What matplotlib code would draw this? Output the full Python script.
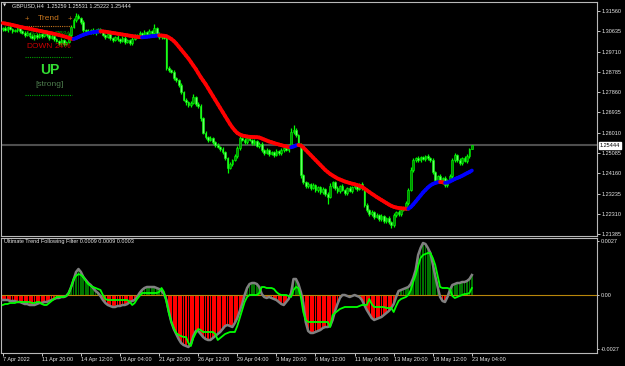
import numpy as np
import matplotlib
matplotlib.use("Agg")
import matplotlib.pyplot as plt
import matplotlib.transforms as mtransforms
from matplotlib.collections import LineCollection

plt.rcParams['font.family'] = ['Liberation Sans', 'DejaVu Sans']

# ---------------- data ----------------
symbol_title = "GBPUSD,H4  1.25259 1.25531 1.25222 1.25444"
indicator_title = "Ultimate Trend Following Filter 0.0009 0.0009 0.0003"

first_open = 1.3072
closes = [
    1.3078, 1.3069, 1.3083, 1.3074, 1.3065, 1.3069, 1.3078, 1.3065, 1.3056, 1.3047,
    1.3056, 1.3042, 1.3033, 1.3047, 1.3037, 1.3051, 1.3042, 1.3056, 1.3047, 1.3033,
    1.3042, 1.3028, 1.3019, 1.3010, 1.3024, 1.3006, 1.3015, 1.3047, 1.3083, 1.3115,
    1.3133, 1.3124, 1.3106, 1.3069, 1.3065, 1.3060, 1.3069, 1.3056, 1.3065, 1.3074,
    1.3060, 1.3047, 1.3037, 1.3051, 1.3033, 1.3024, 1.3037, 1.3028, 1.3019, 1.3033,
    1.3015, 1.3024, 1.3010, 1.3028, 1.3042, 1.3047, 1.3056, 1.3042, 1.3060, 1.3051,
    1.3065, 1.3056, 1.3078, 1.3051, 1.3037, 1.3042, 1.3033, 1.2896, 1.2887, 1.2878,
    1.2850, 1.2841, 1.2818, 1.2787, 1.2750, 1.2741, 1.2727, 1.2736, 1.2764, 1.2732,
    1.2723, 1.2668, 1.2600, 1.2581, 1.2568, 1.2577, 1.2559, 1.2545, 1.2536, 1.2527,
    1.2513, 1.2486, 1.2440, 1.2458, 1.2477, 1.2495, 1.2531, 1.2577, 1.2568, 1.2559,
    1.2577, 1.2568, 1.2554, 1.2563, 1.2540, 1.2550, 1.2522, 1.2509, 1.2522, 1.2504,
    1.2513, 1.2499, 1.2518, 1.2509, 1.2522, 1.2531, 1.2522, 1.2540, 1.2604, 1.2613,
    1.2590, 1.2545, 1.2408, 1.2376, 1.2358, 1.2367, 1.2349, 1.2362, 1.2340, 1.2353,
    1.2331, 1.2344, 1.2322, 1.2308, 1.2358, 1.2376, 1.2349, 1.2335, 1.2358, 1.2340,
    1.2326, 1.2349, 1.2335, 1.2353, 1.2362, 1.2344, 1.2367, 1.2349, 1.2271, 1.2249,
    1.2230, 1.2240, 1.2217, 1.2226, 1.2208, 1.2221, 1.2198, 1.2212, 1.2194, 1.2180,
    1.2226, 1.2240, 1.2230, 1.2249, 1.2258, 1.2281, 1.2340, 1.2431, 1.2477, 1.2486,
    1.2477, 1.2490, 1.2481, 1.2495, 1.2486, 1.2477, 1.2422, 1.2385, 1.2403, 1.2376,
    1.2394, 1.2362, 1.2385, 1.2403, 1.2477, 1.2499, 1.2477, 1.2463, 1.2486, 1.2472,
    1.2495, 1.25259, 1.25444]

wick_up_pips = [
    6, 9, 5, 8, 4, 7, 10, 5, 6, 8,
    7, 5, 9, 6, 8, 4, 7, 10, 5, 6,
    8, 5, 7, 4, 9, 6, 5, 8, 11, 9,
    14, 8, 6, 7, 5, 9, 6, 8, 7, 5,
    6, 8, 5, 9, 7, 4, 6, 8, 5, 7,
    9, 6, 5, 8, 7, 6, 9, 5, 8, 6,
    7, 5, 19, 6, 8, 5, 7, 3, 9, 6,
    8, 5, 7, 10, 6, 9, 5, 8, 12, 6,
    7, 9, 5, 8, 6, 10, 7, 5, 9, 6,
    8, 7, 5, 9, 6, 10, 12, 8, 6, 9,
    7, 10, 5, 8, 6, 7, 9, 5, 8, 6,
    7, 5, 9, 6, 8, 7, 10, 9, 20, 23,
    8, 6, 10, 7, 5, 9, 6, 8, 5, 7,
    6, 9, 5, 8, 12, 7, 6, 9, 5, 8,
    7, 5, 9, 6, 8, 7, 5, 9, 6, 8,
    5, 7, 6, 9, 5, 8, 6, 7, 9, 5,
    8, 6, 9, 5, 7, 10, 8, 12, 9, 6,
    8, 5, 7, 6, 9, 5, 8, 6, 7, 9,
    5, 8, 6, 9, 7, 10, 6, 8, 5, 7,
    9, 6, 0.9]

wick_dn_pips = [
    7, 5, 9, 6, 8, 5, 7, 10, 6, 8,
    5, 9, 6, 7, 10, 5, 8, 6, 9, 7,
    5, 8, 6, 10, 7, 9, 5, 6, 8, 5,
    7, 6, 9, 8, 5, 7, 10, 6, 8, 9,
    5, 7, 9, 6, 8, 10, 5, 7, 9, 6,
    8, 5, 10, 7, 6, 9, 5, 8, 6, 7,
    9, 5, 8, 6, 10, 7, 5, 9, 8, 6,
    9, 7, 10, 8, 6, 12, 9, 7, 5, 10,
    8, 12, 6, 9, 7, 5, 10, 8, 6, 9,
    7, 10, 23, 6, 8, 5, 7, 9, 6, 8,
    10, 5, 7, 9, 6, 8, 10, 7, 5, 9,
    6, 8, 5, 10, 7, 9, 6, 8, 5, 7,
    9, 6, 12, 8, 10, 7, 9, 6, 10, 8,
    7, 9, 10, 30, 6, 8, 10, 7, 9, 6,
    8, 10, 6, 9, 7, 8, 6, 9, 10, 8,
    9, 7, 10, 6, 9, 8, 10, 7, 9, 13,
    8, 7, 10, 9, 6, 8, 7, 6, 9, 7,
    8, 10, 6, 9, 7, 8, 9, 7, 10, 6,
    8, 9, 7, 10, 6, 8, 9, 7, 10, 6,
    8, 9, 0.4]

ma_values = [
    1.31013, 1.30990, 1.30967, 1.30945, 1.30922, 1.30894, 1.30867, 1.30840, 1.30817, 1.30794,
    1.30771, 1.30749, 1.30726, 1.30703, 1.30680, 1.30657, 1.30635, 1.30612, 1.30589, 1.30566,
    1.30544, 1.30521, 1.30493, 1.30466, 1.30439, 1.30407, 1.30375, 1.30338, 1.30302, 1.30284,
    1.30320, 1.30375, 1.30430, 1.30475, 1.30512, 1.30544, 1.30571, 1.30594, 1.30612, 1.30626,
    1.30635, 1.30630, 1.30616, 1.30598, 1.30580, 1.30562, 1.30544, 1.30525, 1.30507, 1.30489,
    1.30471, 1.30452, 1.30434, 1.30416, 1.30398, 1.30384, 1.30370, 1.30361, 1.30370, 1.30384,
    1.30398, 1.30411, 1.30425, 1.30439, 1.30448, 1.30443, 1.30434, 1.30411, 1.30352, 1.30284,
    1.30193, 1.30079, 1.29942, 1.29805, 1.29669, 1.29532, 1.29395, 1.29236, 1.29076, 1.28917,
    1.28734, 1.28552, 1.28393, 1.28233, 1.28051, 1.27869, 1.27686, 1.27504, 1.27322, 1.27139,
    1.26957, 1.26775, 1.26593, 1.26410, 1.26251, 1.26114, 1.26000, 1.25932, 1.25886, 1.25863,
    1.25841, 1.25827, 1.25818, 1.25813, 1.25809, 1.25795, 1.25750, 1.25704, 1.25658, 1.25613,
    1.25581, 1.25544, 1.25508, 1.25476, 1.25444, 1.25417, 1.25390, 1.25362, 1.25349, 1.25385,
    1.25431, 1.25453, 1.25431, 1.25339, 1.25225, 1.25112, 1.24998, 1.24884, 1.24770, 1.24656,
    1.24542, 1.24428, 1.24314, 1.24223, 1.24132, 1.24063, 1.23995, 1.23927, 1.23881, 1.23836,
    1.23790, 1.23754, 1.23722, 1.23690, 1.23663, 1.23631, 1.23594, 1.23549, 1.23471, 1.23389,
    1.23312, 1.23234, 1.23161, 1.23084, 1.23015, 1.22947, 1.22879, 1.22810, 1.22742, 1.22683,
    1.22637, 1.22605, 1.22582, 1.22569, 1.22560, 1.22551, 1.22546, 1.22628, 1.22742, 1.22879,
    1.23015, 1.23152, 1.23289, 1.23403, 1.23517, 1.23608, 1.23676, 1.23722, 1.23754, 1.23767,
    1.23754, 1.23731, 1.23744, 1.23790, 1.23845, 1.23904, 1.23950, 1.23995, 1.24050, 1.24109,
    1.24168, 1.24223, 1.24291]

# oscillator values in units of 1e-4
filter_hist = [
    -2.5, -2.5, -2.5, -3, -3, -3, -3.5, -3.5, -4, -4.5,
    -4.5, -5, -5, -5, -4.5, -4, -4, -3.5, -3.5, -3,
    -2.5, -2, -1.5, -1.5, -1, -1, -0.5, 1, 4, 7.5,
    11.5, 13, 11.5, 9, 7.5, 6, 5, 3.5, 2, 1,
    -0.5, -2.5, -4, -5, -5.5, -6, -6, -5.5, -5.5, -5,
    -5, -4.5, -3.5, -3, -2.5, -1, 1, 2.5, 3.5, 4,
    4, 4, 4, 3.5, 3, 2, 0.5, -2.5, -8.5, -13.5,
    -17, -19.5, -22, -24, -25, -25.5, -26, -24.5, -20.5, -18,
    -18, -19.5, -21, -22, -22.5, -22.5, -21.5, -20.5, -19.5, -18.5,
    -17, -15.5, -15, -15.5, -16, -14, -11.5, -8, -4.5, 0,
    3.5, 5.5, 6, 6, 5.5, 4, 0.5, -1, -1.5, -1,
    -1.5, -2, -2.5, -3.5, -4.5, -5, -3.5, -2, 1, 8,
    8, 5.5, 1.5, -4, -13.5, -18, -19, -19, -18.5, -18,
    -17.5, -16.5, -16, -16, -15.5, -12.5, -8, -4.5, -1.5, 0,
    0, -0.5, -1, -0.5, 0, -0.5, -1, -2.5, -5, -7.5,
    -9.5, -11.5, -12.5, -12, -11.5, -11, -10, -9, -8, -6.5,
    -4.5, -1, 2, 2.5, 3, 3.5, 4, 5.5, 8.5, 12.5,
    20, 23.5, 26, 25.5, 23.5, 21, 15.5, 9.5, 4, -1,
    -3, -3.5, -1, 2.5, 5, 5.5, 6, 6, 6.5, 6.5,
    7, 8, 10]

filter_signal = [
    -5, -4.5, -4.5, -4, -4, -4, -3.5, -3.5, -3.5, -3.5,
    -3.5, -3.5, -4, -4, -3.5, -3.5, -4.5, -5, -5, -4,
    -3, -2, -1, -1, -1, -1, -0.5, 1, 4, 8,
    9.5, 10.5, 10, 9, 7, 5.5, 4.5, 4, 3.5, 3,
    2.5, 0, -2, -2.5, -2.5, -2.5, -2.5, -2.5, -2.5, -2.5,
    -2.5, -2.5, -3.5, -5, -4, -2, -0.5, 1, 1, 1,
    1, 1, 1, 1, 1.5, 3.5, 1.5, -3.5, -9, -13.5,
    -16.5, -19, -20, -20.5, -21, -21, -24, -25.5, -21.5, -19,
    -17, -17.5, -18.5, -18.5, -18.5, -18.5, -18.5, -19.5, -22.5, -21.5,
    -20.5, -19.5, -19, -18.5, -18.5, -18.5, -15.5, -11.5, -7.5, -3.5,
    -1, 0, 0, 0, 0, 1, 4, 4, 3.5, 3.5,
    3.5, 3, 1.5, 0.5, 0, 0, 0, -0.5, -1, 2.5,
    4, 3.5, -1, -8.5, -12.5, -13.5, -13.5, -13.5, -13.5, -13.5,
    -13.5, -13.5, -13.5, -13.5, -16, -10, -9, -8, -7, -6.5,
    -6, -6, -6, -6, -6, -6, -5.5, -5, -5, -5,
    -2, -4.5, -6, -6, -6, -6, -6, -6.5, -6.5, -6.5,
    -8.5, -5.5, -3, -2, -1.5, -1, 0, 2.5, 6.5, 10,
    14.5, 18.5, 20, 20.5, 21, 21, 18.5, 15, 9.5, 4,
    3.5, 3.5, 3.5, 3, -0.5, -1.5, -1, -0.5, 0, 0.5,
    0.5, 1, 3.5]

time_labels = ["7 Apr 2022", "11 Apr 20:00", "14 Apr 12:00", "19 Apr 04:00",
               "21 Apr 20:00", "26 Apr 12:00", "29 Apr 04:00", "3 May 20:00",
               "6 May 12:00", "11 May 04:00", "13 May 20:00", "18 May 12:00",
               "23 May 04:00"]
bars_per_label = 16

price_ticks = [1.31560, 1.30635, 1.29710, 1.28785, 1.27860, 1.26935,
               1.26010, 1.25085, 1.24160, 1.23235, 1.22310, 1.21385]
current_price = 1.25444
osc_ticks = [0.0027, 0.0, -0.0027]
osc_tick_labels = ["0.0027", "0.00", "-0.0027"]
trend_up_pct = 76
trend_down_pct = 24
trend_state = "UP"
trend_strength = "[strong]"

# ---------------- figure ----------------
W, H = 625, 366
fig = plt.figure(figsize=(W / 100, H / 100), dpi=100, facecolor='black')


def fx(px):
    return px / W


def fy(py):
    return 1 - py / H


ax = fig.add_axes([fx(1), fy(236), 596 / W, 234 / H], facecolor='black')
ax2 = fig.add_axes([fx(1), fy(352.5), 596 / W, 115 / H], facecolor='black')

n = len(closes)
x = np.arange(n)
c = np.array(closes)
o = np.array([first_open] + closes[:-1])
hi = np.maximum(o, c) + np.array(wick_up_pips) * 1e-4
lo = np.minimum(o, c) - np.array(wick_dn_pips) * 1e-4

xlim = (-0.7, 243.2)
spine_col = '#b8b8b8'
txt_col = '#e6e6e6'

# main panel
ax.axhline(current_price, color='#4e4e4e', lw=1.5, zorder=1)
ax.vlines(x, lo, hi, color='#00ff00', lw=0.9, zorder=4)
body_col = np.where(c >= o, '#009000', '#66ff66')
ax.bar(x, np.maximum(np.abs(c - o), 0.00002), bottom=np.minimum(o, c), width=0.7,
       color=body_col, edgecolor='#00ff00', linewidth=0.4, zorder=5)

ma = np.array(ma_values)
pts = np.column_stack([x, ma])
segs = np.stack([pts[:-1], pts[1:]], axis=1)
seg_cols = ['#0000ff' if ma[i + 1] > ma[i] else '#ff0000' for i in range(n - 1)]
ax.add_collection(LineCollection(segs, colors=seg_cols, linewidths=2.7,
                                 capstyle='round', zorder=6))

ax.set_xlim(*xlim)
ax.set_ylim(1.21306, 1.31970)
ax.yaxis.tick_right()
ax.set_yticks(price_ticks)
ax.set_yticklabels([f"{p:.5f}" for p in price_ticks])
ax.tick_params(axis='y', colors=txt_col, labelsize=4, length=2, width=0.6, pad=1.2,
               direction='out')
ax.tick_params(axis='x', bottom=False, labelbottom=False)
for sp in ax.spines.values():
    sp.set_color(spine_col)
    sp.set_linewidth(0.8)

trans = mtransforms.blended_transform_factory(ax.transAxes, ax.transData)
ax.text(1.004, current_price, f"{current_price:.5f}", transform=trans, ha='left',
        va='center', fontsize=4, color='black', zorder=10, clip_on=False,
        bbox=dict(boxstyle='square,pad=0.15', fc='white', ec='white'))

# overlay texts (above candles, below the MA line)
tf = fig.transFigure
tz = 5.5
ax.text(fx(12), fy(6), symbol_title, transform=tf, fontsize=4, color=txt_col,
        va='center', ha='left', zorder=8)
ax.text(fx(5), fy(5.5), "\u25bc", transform=tf, fontsize=3, color=txt_col,
        va='center', ha='center', zorder=8, family=['DejaVu Sans'])
orange = '#c8761e'
ax.text(fx(27), fy(19.5), "+", transform=tf, fontsize=5.5, color=orange,
        va='center', ha='center', zorder=tz)
ax.text(fx(70), fy(19.5), "+", transform=tf, fontsize=5.5, color=orange,
        va='center', ha='center', zorder=tz)
ax.text(fx(49), fy(19), "Trend", transform=tf, fontsize=6, color=orange,
        va='center', ha='center', zorder=tz)
ax.plot([fx(26), fx(72)], [fy(25.5), fy(25.5)], transform=tf, color=orange, lw=0.8,
        ls=(0, (1, 1)), zorder=tz)
ax.text(fx(26), fy(34), "UP", transform=tf, fontsize=6, color='#00a000',
        va='center', ha='left', zorder=tz)
ax.text(fx(55), fy(34), f"{trend_up_pct}%", transform=tf, fontsize=6, color='#00a000',
        va='center', ha='left', zorder=tz)
ax.text(fx(26), fy(47), "DOWN", transform=tf, fontsize=6, color='#cc0000',
        va='center', ha='left', zorder=tz)
ax.text(fx(55), fy(47), f"{trend_down_pct}%", transform=tf, fontsize=6, color='#cc0000',
        va='center', ha='left', zorder=tz)
ax.plot([fx(25), fx(72)], [fy(57), fy(57)], transform=tf, color='#00a000', lw=0.8,
        ls=(0, (1, 1)), zorder=tz)
ax.text(fx(49.5), fy(69.5), trend_state, transform=tf, fontsize=10, color='#33dd33',
        va='center', ha='center', fontweight='bold', zorder=tz)
ax.text(fx(49.5), fy(84), trend_strength, transform=tf, fontsize=6, color='#4f7f4f',
        va='center', ha='center', zorder=tz)
ax.plot([fx(25), fx(72)], [fy(95), fy(95)], transform=tf, color='#00a000', lw=0.8,
        ls=(0, (1, 1)), zorder=tz)

# lower panel
hist = np.array(filter_hist) * 1e-4
sig = np.array(filter_signal) * 1e-4
ax2.bar(x, hist, width=0.75, color=np.where(hist >= 0, '#007400', '#ff0000'),
        linewidth=0, zorder=2)
ax2.axhline(0, color='#b8860b', lw=0.8, zorder=2.5)
ax2.plot(x, hist, color='#808080', lw=1.8, zorder=3)
ax2.plot(x, sig, color='#00ff00', lw=1.3, zorder=4)
ax2.set_xlim(*xlim)
ax2.set_ylim(-28.75e-4, 28.75e-4)
ax2.yaxis.tick_right()
ax2.set_yticks(osc_ticks)
ax2.set_yticklabels(osc_tick_labels)
ax2.tick_params(axis='y', colors=txt_col, labelsize=4, length=1.5, width=0.6, pad=1.0,
                direction='out')
tick_pos = np.arange(len(time_labels)) * bars_per_label
ax2.set_xticks(tick_pos)
ax2.set_xticklabels(time_labels, ha='left')
ax2.tick_params(axis='x', colors=txt_col, labelsize=4, length=2.5, width=0.6, pad=0.8,
                direction='out')
for lab in ax2.get_xticklabels():
    lab.set_horizontalalignment('left')
for sp in ax2.spines.values():
    sp.set_color(spine_col)
    sp.set_linewidth(0.8)
ax2.text(fx(4), fy(242), indicator_title, transform=tf, fontsize=4, color=txt_col,
         va='center', ha='left', zorder=8)

fig.savefig("out.png", dpi=100, facecolor='black')
